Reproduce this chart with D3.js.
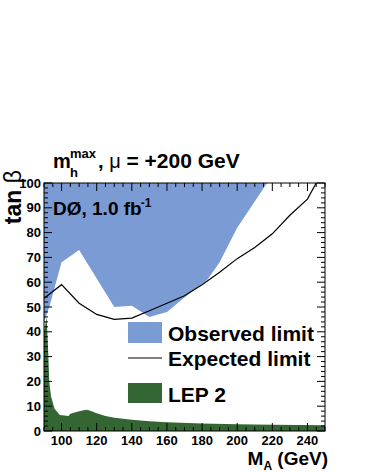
<!DOCTYPE html>
<html>
<head>
<meta charset="utf-8">
<script src="https://cdn.jsdelivr.net/npm/d3@7"></script>
<style>
  body { margin: 0; background: #fff; }
  text { font-family: "Liberation Sans", Arial, sans-serif; font-weight: bold; }
</style>
</head>
<body>
<svg id="chart"></svg>
<script>
// observed exclusion boundary (region above is excluded)
const obsMass = [90, 93, 100, 110, 130, 140, 150, 160, 172, 183, 190, 200, 217]
const obsTanb = [44, 50, 68, 73, 50, 50.5, 46, 48, 55, 61, 68, 82, 100]

// expected limit curve
const expMass = [90, 100, 110, 120, 130, 140, 150, 160, 170, 180, 190, 200, 210, 220, 230, 240, 245]
const expTanb = [53.5, 59, 51.5, 47, 45, 45.5, 48.5, 51.5, 54.5, 59, 64, 69.5, 74, 79.5, 87, 93.5, 100]

// LEP 2 excluded region (below the curve)
const lepMass = [90, 91.5, 92.5, 93, 94, 96, 99, 104, 105, 110, 114, 116, 120, 125, 130, 140, 150, 160, 180, 200, 220, 250]
const lepTanb = [40, 46, 30, 20, 14, 9, 6.5, 6, 7, 8, 8.6, 8.3, 7.2, 6, 5.3, 4.5, 3.9, 3.5, 3, 2.7, 2.5, 2.3]

const xTicks = [100, 120, 140, 160, 180, 200, 220, 240]
const yTicks = [0, 10, 20, 30, 40, 50, 60, 70, 80, 90, 100]

const W = 366, H = 473
const margin = { left: 44, right: 41, top: 183, bottom: 42 }
const blue = "#7b9bd4", green = "#336633"

const svg = d3.select("#chart").attr("width", W).attr("height", H)

const x = d3.scaleLinear().domain([90, 250]).range([margin.left, W - margin.right])
const y = d3.scaleLinear().domain([0, 100]).range([H - margin.bottom, margin.top])

svg.append("clipPath").attr("id", "clip").append("rect")
  .attr("x", x(90)).attr("y", y(100)).attr("width", x(250) - x(90)).attr("height", y(0) - y(100))

const plot = svg.append("g").attr("clip-path", "url(#clip)")

// observed: from boundary up to top
const obsPts = obsMass.map((m, i) => [m, obsTanb[i]])
const obsPoly = [[90, 100]].concat(obsPts).concat([[90, 100]])
plot.append("path")
  .attr("d", d3.line().x(d => x(d[0])).y(d => y(d[1]))(obsPoly))
  .attr("fill", blue)

// LEP 2
const lepData = lepMass.map((m, i) => ({ m: m, t: lepTanb[i] }))
plot.append("path")
  .datum(lepData)
  .attr("d", d3.area().x(d => x(d.m)).y0(y(0)).y1(d => y(d.t)))
  .attr("fill", green)

// expected
const expData = expMass.map((m, i) => ({ m: m, t: expTanb[i] }))
plot.append("path")
  .datum(expData)
  .attr("d", d3.line().x(d => x(d.m)).y(d => y(d.t)))
  .attr("fill", "none").attr("stroke", "#000").attr("stroke-width", 1.2)

// frame
svg.append("rect")
  .attr("x", x(90)).attr("y", y(100)).attr("width", x(250) - x(90)).attr("height", y(0) - y(100))
  .attr("fill", "none").attr("stroke", "#000").attr("stroke-width", 1)

// ticks, ROOT style pointing inwards on all four sides
const xMinor = d3.range(90, 251, 5)
const yMinor = d3.range(0, 101, 2)
const tk = svg.append("g").attr("stroke", "#000").attr("stroke-width", 1)
xMinor.forEach(v => {
  const len = v % 20 === 0 ? 8 : 4
  tk.append("line").attr("x1", x(v)).attr("x2", x(v)).attr("y1", y(0)).attr("y2", y(0) - len)
  tk.append("line").attr("x1", x(v)).attr("x2", x(v)).attr("y1", y(100)).attr("y2", y(100) + len)
})
yMinor.forEach(v => {
  const len = v % 10 === 0 ? 8 : 4
  tk.append("line").attr("x1", x(90)).attr("x2", x(90) + len).attr("y1", y(v)).attr("y2", y(v))
  tk.append("line").attr("x1", x(250)).attr("x2", x(250) - len).attr("y1", y(v)).attr("y2", y(v))
})

svg.append("g").selectAll("text").data(xTicks).enter().append("text")
  .attr("x", d => x(d)).attr("y", y(0) + 14)
  .attr("text-anchor", "middle").attr("font-size", 13)
  .text(d => d)

svg.append("g").selectAll("text").data(yTicks).enter().append("text")
  .attr("x", x(90) - 3).attr("y", d => y(d) + 4.5)
  .attr("text-anchor", "end").attr("font-size", 13)
  .text(d => d)

// axis titles
const yt = svg.append("text")
  .attr("transform", "translate(21, 170) rotate(-90)")
  .attr("text-anchor", "end").attr("font-size", 23)
yt.append("tspan").text("tan ")
yt.append("tspan").attr("font-weight", "normal").text("β")

const xt = svg.append("text")
  .attr("x", 328).attr("y", 465)
  .attr("text-anchor", "end").attr("font-size", 19)
xt.append("tspan").text("M")
xt.append("tspan").attr("font-size", 12).attr("dy", 5).text("A")
xt.append("tspan").attr("dy", -5).text(" (GeV)")

// title
svg.append("text").attr("x", 53).attr("y", 168).attr("font-size", 20).text("m")
svg.append("text").attr("x", 70).attr("y", 158).attr("font-size", 13).text("max")
svg.append("text").attr("x", 70).attr("y", 177).attr("font-size", 13).text("h")
const tt = svg.append("text").attr("x", 98).attr("y", 168).attr("font-size", 20)
tt.append("tspan").text(", ")
tt.append("tspan").attr("font-weight", "normal").text("μ")
tt.append("tspan").attr("font-size", 21).text(" = +200 GeV")

// DØ label
const dz = svg.append("text").attr("x", 53).attr("y", 215).attr("font-size", 19)
dz.append("tspan").text("DØ, 1.0 fb")
dz.append("tspan").attr("font-size", 12).attr("dy", -8).attr("dx", -1).text("-1")

// legend
const lg = svg.append("g")
lg.append("rect").attr("x", 128).attr("y", 322).attr("width", 34).attr("height", 21).attr("fill", blue)
lg.append("text").attr("x", 168).attr("y", 341).attr("font-size", 21).text("Observed limit")
lg.append("line").attr("x1", 128).attr("x2", 162).attr("y1", 358).attr("y2", 358).attr("stroke", "#000").attr("stroke-width", 1.2)
lg.append("text").attr("x", 168).attr("y", 366).attr("font-size", 21).text("Expected limit")
lg.append("rect").attr("x", 128).attr("y", 383).attr("width", 34).attr("height", 20).attr("fill", green)
lg.append("text").attr("x", 168).attr("y", 402).attr("font-size", 21).text("LEP 2")
</script>
</body>
</html>
